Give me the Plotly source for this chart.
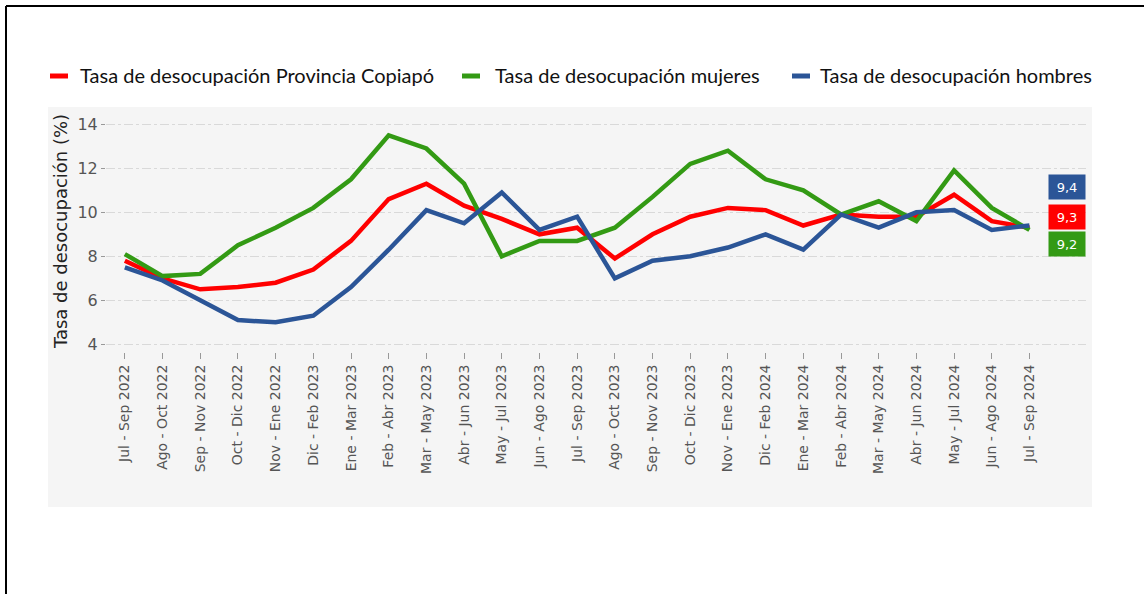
import plotly.graph_objects as go

# Trimestres móviles
periodos = [
    "Jul - Sep 2022", "Ago - Oct 2022", "Sep - Nov 2022", "Oct - Dic 2022",
    "Nov - Ene 2022", "Dic - Feb 2023", "Ene - Mar 2023", "Feb - Abr 2023",
    "Mar - May 2023", "Abr - Jun 2023", "May - Jul 2023", "Jun - Ago 2023",
    "Jul - Sep 2023", "Ago - Oct 2023", "Sep - Nov 2023", "Oct - Dic 2023",
    "Nov - Ene 2023", "Dic - Feb 2024", "Ene - Mar 2024", "Feb - Abr 2024",
    "Mar - May 2024", "Abr - Jun 2024", "May - Jul 2024", "Jun - Ago 2024",
    "Jul - Sep 2024",
]

tasa_provincia = [7.8, 7.0, 6.5, 6.6, 6.8, 7.4, 8.7, 10.6, 11.3, 10.3, 9.7, 9.0, 9.3,
                  7.9, 9.0, 9.8, 10.2, 10.1, 9.4, 9.9, 9.8, 9.8, 10.8, 9.6, 9.3]
tasa_mujeres = [8.1, 7.1, 7.2, 8.5, 9.3, 10.2, 11.5, 13.5, 12.9, 11.3, 8.0, 8.7, 8.7,
                9.3, 10.7, 12.2, 12.8, 11.5, 11.0, 9.9, 10.5, 9.6, 11.9, 10.2, 9.2]
tasa_hombres = [7.5, 6.9, 6.0, 5.1, 5.0, 5.3, 6.6, 8.3, 10.1, 9.5, 10.9, 9.2, 9.8,
                7.0, 7.8, 8.0, 8.4, 9.0, 8.3, 9.9, 9.3, 10.0, 10.1, 9.2, 9.4]

nombres = ["Tasa de desocupación Provincia Copiapó",
           "Tasa de desocupación mujeres",
           "Tasa de desocupación hombres"]
valores_series = [tasa_provincia, tasa_mujeres, tasa_hombres]
colores = ["#ff0000", "#339a14", "#2b5597"]

# Desplazamiento vertical (px) de la etiqueta del último valor
desplaz_etiqueta = [11, -14, 39]
# Posición horizontal (px) de cada entrada de la leyenda: muestra y texto
leyenda_px = [(50, 80), (462, 495), (792, 820)]

x = list(range(len(periodos)))

ML, MR, MT, MB, W, H = 106, 58, 110, 242, 1144, 594
PW, PH = W - ML - MR, H - MT - MB


def px_x(p):
    return (p - ML) / PW


def px_y(p):
    return 1 + (MT - p) / PH


fig = go.Figure()
for nombre, valores, color in zip(nombres, valores_series, colores):
    fig.add_trace(go.Scatter(
        x=x, y=valores, mode="lines", name=nombre,
        line=dict(color=color, width=4.5), showlegend=False,
    ))

# Etiquetas con el último valor de cada serie
for valores, color, desplaz in zip(valores_series, colores, desplaz_etiqueta):
    fig.add_annotation(
        x=x[-1], y=valores[-1], xref="x", yref="y",
        text=f"{valores[-1]:.1f}".replace(".", ","),
        showarrow=False, xshift=38, yshift=desplaz,
        bgcolor=color, width=34, height=22,
        font=dict(color="white", size=13, family="DejaVu Sans"),
    )

# Leyenda superior
y_ley = px_y(76)
for nombre, color, (xm, xt) in zip(nombres, colores, leyenda_px):
    fig.add_shape(type="line", xref="paper", yref="paper",
                  x0=px_x(xm), x1=px_x(xm + 18), y0=y_ley, y1=y_ley,
                  line=dict(color=color, width=5))
    fig.add_annotation(x=px_x(xt - 2), y=px_y(75), xref="paper", yref="paper",
                       text=nombre, showarrow=False, xanchor="left", yanchor="middle",
                       font=dict(family="Lato", size=20, color="#111"))

# Fondo gris y marco
fig.add_shape(type="rect", xref="paper", yref="paper",
              x0=px_x(48), x1=px_x(1092), y0=px_y(507), y1=px_y(107),
              fillcolor="#f5f5f5", line=dict(width=0), layer="below")
fig.add_shape(type="line", xref="paper", yref="paper",
              x0=px_x(6), x1=px_x(1144), y0=px_y(6), y1=px_y(6),
              line=dict(color="black", width=2))
fig.add_shape(type="line", xref="paper", yref="paper",
              x0=px_x(6), x1=px_x(6), y0=px_y(6), y1=px_y(594),
              line=dict(color="black", width=2))

fig.update_layout(
    width=W, height=H,
    margin=dict(l=ML, r=MR, t=MT, b=MB),
    paper_bgcolor="white",
    plot_bgcolor="rgba(0,0,0,0)",
    showlegend=False,
    xaxis=dict(
        tickmode="array", tickvals=x, ticktext=periodos,
        range=[-0.5, 25.5], tickangle=-90,
        showgrid=False, zeroline=False, showline=False,
        ticks="outside", ticklen=6, tickcolor="#999",
        tickfont=dict(family="DejaVu Sans", size=14, color="#555"),
    ),
    yaxis=dict(
        range=[3.65, 14.65], tickvals=[4, 6, 8, 10, 12, 14],
        showgrid=True, gridcolor="#d9d9d9", griddash="dashdot", gridwidth=1,
        zeroline=False, showline=False,
        ticks="outside", ticklen=4, tickcolor="#999",
        tickfont=dict(family="DejaVu Sans", size=16, color="#555"),
        title=dict(text="Tasa de desocupación (%)", standoff=5,
                   font=dict(family="DejaVu Sans", size=18, color="#222")),
    ),
)

fig.write_html("out.html")
